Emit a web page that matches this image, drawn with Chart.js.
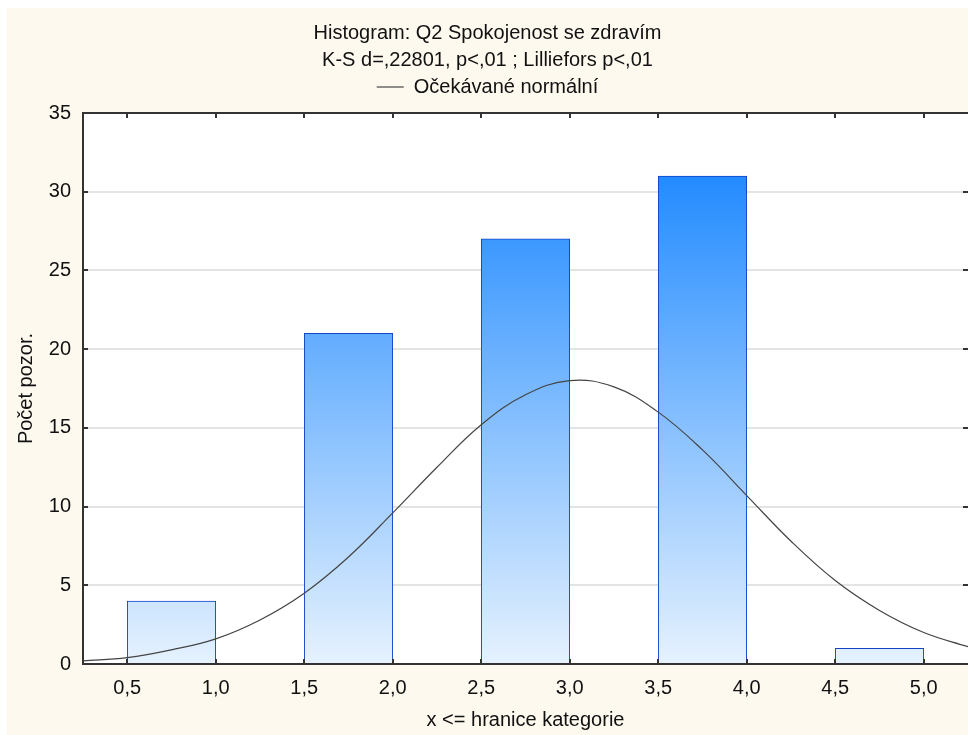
<!DOCTYPE html>
<html>
<head>
<meta charset="utf-8">
<script src="https://cdn.jsdelivr.net/npm/chart.js@4.4.1/dist/chart.umd.min.js"></script>
<style>
  html, body { margin: 0; padding: 0; background: #fff; }
</style>
</head>
<body>
<canvas id="histChart" width="968" height="735"></canvas>
<script>
// histogram: upper bound of each class and its count
const binUpper = [1.0, 2.0, 3.0, 4.0, 5.0];
const binCounts = [4, 21, 27, 31, 1];
const binWidth = 0.5;

// expected normal curve
const curveX = [0.25, 0.5, 0.75, 1.0, 1.25, 1.5, 1.75, 2.0, 2.25, 2.5, 2.75,
                3.0, 3.25, 3.5, 3.75, 4.0, 4.25, 4.5, 4.75, 5.0, 5.25];
const curveY = [0.2, 0.4, 0.9, 1.6, 2.8, 4.5, 6.8, 9.6, 12.5, 15.2, 17.1,
                18.0, 17.6, 16.0, 13.6, 10.7, 7.8, 5.3, 3.4, 2.0, 1.1];

const xTicks = [0.5, 1.0, 1.5, 2.0, 2.5, 3.0, 3.5, 4.0, 4.5, 5.0];
const xTickLabels = ['0,5', '1,0', '1,5', '2,0', '2,5', '3,0', '3,5', '4,0', '4,5', '5,0'];
const yTicks = [0, 5, 10, 15, 20, 25, 30, 35];

Chart.defaults.font.family = "'Liberation Sans', Arial, sans-serif";
Chart.defaults.font.size = 20;
Chart.defaults.color = '#111';

// cream page, white plot area, dark frame with inward ticks
const framePlugin = {
    id: 'frame',
    beforeDraw(chart) {
        const ctx = chart.ctx;
        const a = chart.chartArea;
        ctx.save();
        ctx.fillStyle = '#ffffff';
        ctx.fillRect(0, 0, chart.width, chart.height);
        ctx.fillStyle = '#fdf9ef';
        ctx.fillRect(7, 8, chart.width - 7, chart.height - 8);
        ctx.fillStyle = '#ffffff';
        ctx.fillRect(a.left, a.top, a.right - a.left, a.bottom - a.top);
        ctx.restore();
    },
    afterDatasetsDraw(chart) {
        const ctx = chart.ctx;
        const a = chart.chartArea;
        const xs = chart.scales.x;
        const ys = chart.scales.y;
        ctx.save();
        ctx.strokeStyle = '#333';
        ctx.lineWidth = 2;
        ctx.beginPath();
        ctx.moveTo(a.left, a.top); ctx.lineTo(a.right, a.top);
        ctx.moveTo(a.left, a.top - 1); ctx.lineTo(a.left, a.bottom + 1);
        ctx.moveTo(a.left, a.bottom); ctx.lineTo(a.right, a.bottom);
        xs.ticks.forEach(t => {
            const px = Math.round(xs.getPixelForValue(t.value));
            ctx.moveTo(px, a.top); ctx.lineTo(px, a.top + 5);
            ctx.moveTo(px, a.bottom); ctx.lineTo(px, a.bottom - 5);
        });
        ys.ticks.forEach(t => {
            const py = Math.round(ys.getPixelForValue(t.value));
            ctx.moveTo(a.left, py); ctx.lineTo(a.left + 5, py);
            ctx.moveTo(a.right, py); ctx.lineTo(a.right - 5, py);
        });
        ctx.stroke();
        ctx.restore();
    }
};

function barGradient(context) {
    const a = context.chart.chartArea;
    if (!a) return '#8fc3fb';
    const g = context.chart.ctx.createLinearGradient(0, a.bottom, 0, a.top);
    g.addColorStop(0, 'rgb(230,242,254)');
    g.addColorStop(1, 'rgb(10,126,255)');
    return g;
}

const ctx = document.getElementById('histChart').getContext('2d');
new Chart(ctx, {
    type: 'bar',
    data: {
        datasets: [{
            type: 'bar',
            label: 'Q2 Spokojenost se zdravím',
            data: binUpper.map((u, i) => ({ x: u - binWidth / 2, y: binCounts[i] })),
            xAxisID: 'x',
            yAxisID: 'y',
            backgroundColor: barGradient,
            borderColor: '#1244c8',
            borderWidth: 1,
            barPercentage: 1,
            categoryPercentage: 1,
            order: 2
        }, {
            type: 'line',
            label: 'Očekávané normální',
            data: curveX.map((x, i) => ({ x: x, y: curveY[i] })),
            xAxisID: 'x',
            yAxisID: 'y',
            borderColor: '#444444',
            borderWidth: 1.2,
            pointRadius: 0,
            tension: 0.4,
            fill: false,
            order: 1
        }]
    },
    options: {
        responsive: false,
        animation: false,
        layout: { padding: { left: 7, top: 8, right: 0, bottom: 0 } },
        plugins: {
            tooltip: { enabled: false },
            title: {
                display: true,
                text: ['Histogram: Q2 Spokojenost se zdravím', 'K-S d=,22801, p<,01 ; Lilliefors p<,01'],
                color: '#111',
                font: { size: 20, weight: 'normal', lineHeight: '27px' },
                padding: { top: 12, bottom: 0 }
            },
            legend: {
                position: 'top',
                labels: {
                    filter: item => item.datasetIndex === 1,
                    usePointStyle: true,
                    pointStyle: 'line',
                    pointStyleWidth: 27,
                    padding: 3,
                    color: '#111',
                    font: { size: 20 }
                }
            }
        },
        scales: {
            x: {
                type: 'linear',
                min: 0.25,
                max: 5.25,
                offset: false,
                grid: { display: false, drawTicks: false, offset: false },
                border: { display: false },
                afterBuildTicks: s => { s.ticks = xTicks.map(v => ({ value: v })); },
                afterFit: s => { s.height = 71; },
                ticks: {
                    autoSkip: false,
                    maxRotation: 0,
                    padding: 12,
                    callback: (v, i) => xTickLabels[i]
                },
                title: {
                    display: true,
                    text: 'x <= hranice kategorie',
                    padding: { top: 0, bottom: 3 }
                }
            },
            // empty strip between the legend and the plot frame
            xTop: {
                type: 'linear',
                position: 'top',
                display: true,
                min: 0.25,
                max: 5.25,
                grid: { display: false, drawTicks: false },
                border: { display: false },
                ticks: { display: false },
                afterFit: s => { s.height = 6; }
            },
            y: {
                min: 0,
                max: 35,
                grid: {
                    drawTicks: false,
                    lineWidth: 2,
                    color: c => (c.tick && (c.tick.value === 0 || c.tick.value === 35)) ? 'rgba(0,0,0,0)' : '#e4e4e4'
                },
                border: { display: false },
                afterBuildTicks: s => { s.ticks = yTicks.map(v => ({ value: v })); },
                afterFit: s => { s.width = 76; },
                ticks: { padding: 12 },
                title: {
                    display: true,
                    text: 'Počet pozor.',
                    padding: { top: 7, bottom: 0 }
                }
            }
        }
    },
    plugins: [framePlugin]
});
</script>
</body>
</html>
